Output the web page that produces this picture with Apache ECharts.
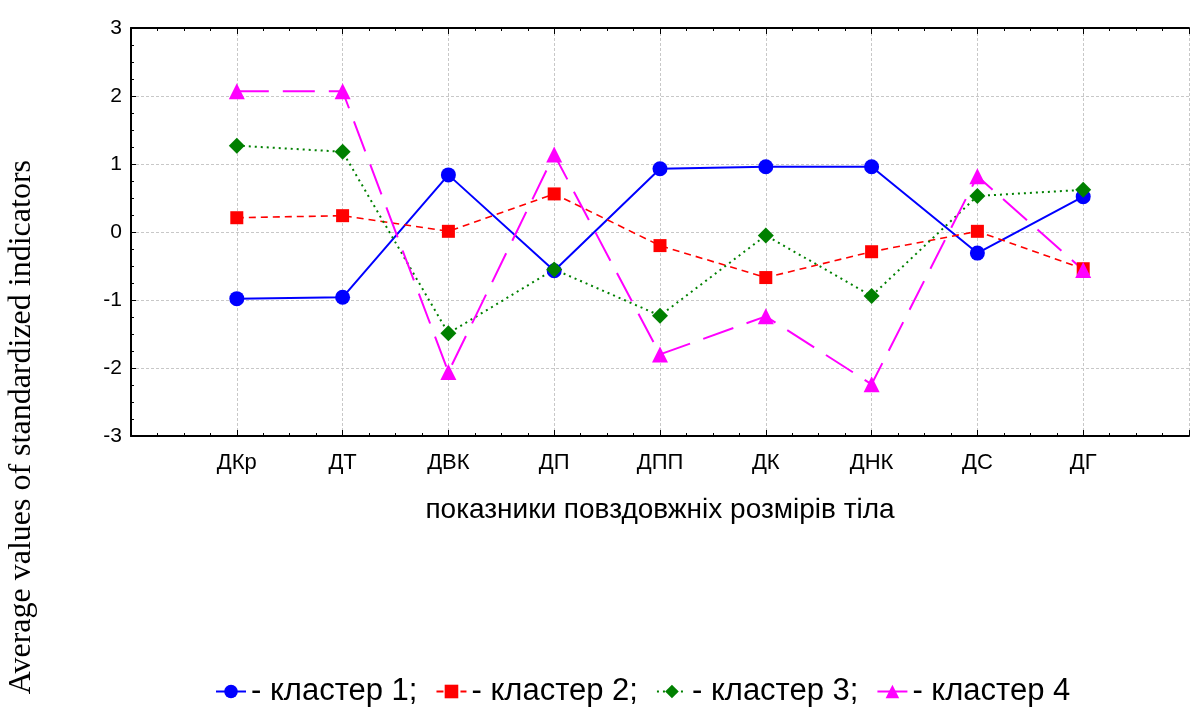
<!DOCTYPE html>
<html>
<head>
<meta charset="utf-8">
<script src="https://cdn.jsdelivr.net/npm/echarts@6/dist/echarts.min.js"></script>
<style>
  html, body { margin: 0; padding: 0; background: #fff; }
  #chart { width: 1192px; height: 707px; }
</style>
</head>
<body>
<div id="chart"></div>
<script>
// показники (категорії осі X)
var categories = ['ДКр', 'ДТ', 'ДВК', 'ДП', 'ДПП', 'ДК', 'ДНК', 'ДС', 'ДГ'];
var cluster1 = [-0.98, -0.96, 0.84, -0.57, 0.93, 0.96, 0.96, -0.31, 0.52];
var cluster2 = [0.21, 0.24, 0.01, 0.56, -0.2, -0.67, -0.29, 0.01, -0.54];
var cluster3 = [1.27, 1.18, -1.49, -0.55, -1.23, -0.05, -0.94, 0.53, 0.62];
var cluster4 = [2.07, 2.07, -2.06, 1.14, -1.8, -1.24, -2.24, 0.82, -0.56];
var seriesNames = ['кластер 1', 'кластер 2', 'кластер 3', 'кластер 4'];
var yTicks = [-3, -2, -1, 0, 1, 2, 3];

// точки ставимо на позиції 1..9, краї осі 0 і 10 порожні
function toPoints(arr) {
    return arr.map(function (v, i) { return [i + 1, v]; });
}

var chart = echarts.init(document.getElementById('chart'));
var sans = 'Liberation Sans, Arial, sans-serif';

chart.setOption({
    animation: false,
    grid: { left: 131, top: 28, right: -13, bottom: 271, containLabel: false },
    legend: {
        bottom: -5,
        left: 210,
        itemWidth: 30,
        itemHeight: 17,
        itemGap: 18,
        textStyle: { fontFamily: sans, fontSize: 31, color: '#000' },
        formatter: function (name) {
            return '- ' + name + (name === seriesNames[3] ? '' : ';');
        },
        data: seriesNames
    },
    xAxis: [{
        type: 'value',
        min: 0, max: 10, interval: 1,
        name: 'показники повздовжніх розмірів тіла',
        nameLocation: 'middle',
        nameGap: 60,
        nameTextStyle: { fontFamily: sans, fontSize: 28, color: '#000' },
        axisLine: { onZero: false, lineStyle: { color: '#000', width: 2 } },
        axisTick: { inside: true, length: 6, lineStyle: { color: '#000' } },
        minorTick: { show: true, splitNumber: 4, length: 3, lineStyle: { color: '#000' } },
        axisLabel: {
            fontFamily: sans, fontSize: 22, color: '#000', margin: 16,
            formatter: function (v) { return categories[v - 1] || ''; }
        },
        splitLine: { show: true, lineStyle: { color: '#c8c8c8', type: [3, 2] } }
    }, {
        type: 'value',
        position: 'top',
        min: 0, max: 10, interval: 1,
        axisLine: { onZero: false, lineStyle: { color: '#000', width: 2 } },
        axisTick: { inside: true, length: 6, lineStyle: { color: '#000' } },
        minorTick: { show: true, splitNumber: 4, length: 3, lineStyle: { color: '#000' } },
        axisLabel: { show: false },
        splitLine: { show: false }
    }],
    yAxis: {
        type: 'value',
        min: yTicks[0], max: yTicks[yTicks.length - 1], interval: 1,
        axisLine: { show: true, onZero: false, lineStyle: { color: '#000', width: 2 } },
        axisTick: { inside: true, length: 5, lineStyle: { color: '#000' } },
        minorTick: { show: true, splitNumber: 4, length: 3, lineStyle: { color: '#000' } },
        axisLabel: { fontFamily: sans, fontSize: 21, color: '#000', margin: 9 },
        splitLine: { show: true, lineStyle: { color: '#c8c8c8', type: [3, 2] } }
    },
    graphic: [{
        type: 'text',
        left: 6,
        top: 160,
        rotation: Math.PI / 2,
        style: {
            text: 'Average values of standardized indicators',
            font: '32px "Liberation Serif", "Times New Roman", serif',
            fill: '#000'
        }
    }],
    series: [{
        name: seriesNames[0],
        type: 'line',
        data: toPoints(cluster1),
        symbol: 'circle', symbolSize: 15,
        itemStyle: { color: '#0000ff' },
        lineStyle: { color: '#0000ff', width: 2 }
    }, {
        name: seriesNames[1],
        type: 'line',
        data: toPoints(cluster2),
        symbol: 'rect', symbolSize: 13,
        itemStyle: { color: '#ff0000' },
        lineStyle: { color: '#ff0000', width: 1.6, type: [7, 5] }
    }, {
        name: seriesNames[2],
        type: 'line',
        data: toPoints(cluster3),
        symbol: 'diamond', symbolSize: 16,
        itemStyle: { color: '#008000' },
        lineStyle: { color: '#008000', width: 2, type: [2, 4] }
    }, {
        name: seriesNames[3],
        type: 'line',
        data: toPoints(cluster4),
        symbol: 'triangle', symbolSize: 16,
        itemStyle: { color: '#ff00ff' },
        lineStyle: { color: '#ff00ff', width: 2, type: [32, 14] }
    }]
});
</script>
</body>
</html>
